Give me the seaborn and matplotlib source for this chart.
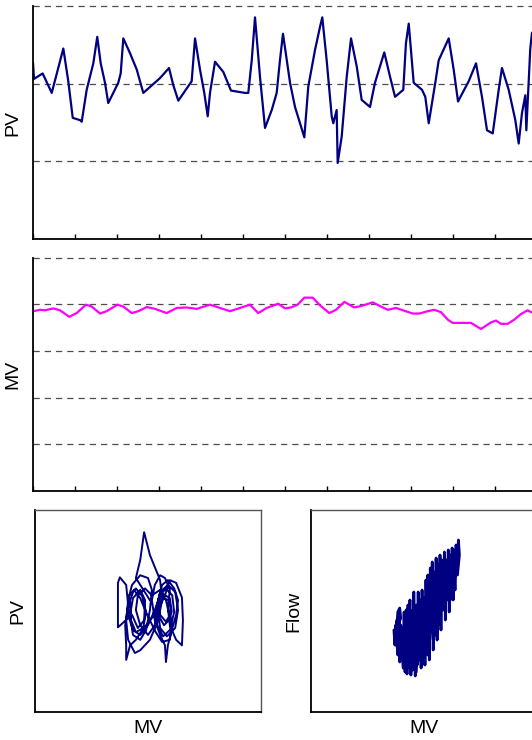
import numpy as np
import pandas as pd
import matplotlib
matplotlib.use("Agg")
import matplotlib.pyplot as plt
import seaborn as sns

# ---- process trend (time, PV) ----
pv_t = [0, 1.2, 11.5, 22.3, 36.1, 42.0, 47.3, 56.0, 58.0, 63.9, 71.8, 76.5, 80.6, 85.7, 89.6,
        101.5, 104.4, 107.5, 115.5, 123.5, 131.3, 151.2, 161.9, 167.0, 173.0, 188.9, 192.9,
        198.8, 203.9, 208.0, 210.7, 216.7, 226.5, 235.7, 252.4, 256.3, 260.4, 264.3, 270.2,
        276.2, 284.2, 290.1, 294.0, 297.6, 306.0, 311.9, 317.9, 323.0, 327.7, 335.7, 341.7,
        344.4, 349.6, 355.6, 357.5, 361.5, 362.7, 367.5, 373.5, 378.6, 385.4, 391.3, 401.2,
        407.1, 413.1, 418.2, 425.0, 431.0, 440.8, 444.0, 447.3, 453.2, 463.1, 467.0, 471.1,
        478.9, 483.0, 494.9, 500.8, 506.0, 518.7, 527.4, 534.5, 540.5, 547.3, 554.4, 558.3,
        566.3, 574.2, 578.2, 582.1, 586.1, 587.3, 592.0, 594.0, 600.0]
pv_val = [2.27, 2.06, 2.13, 1.88, 2.45, 2.03, 1.56, 1.53, 1.51, 1.92, 2.26, 2.60, 2.26, 2.01, 1.75,
          2.01, 2.13, 2.58, 2.39, 2.18, 1.88, 2.07, 2.20, 1.98, 1.78, 2.03, 2.58,
          2.18, 1.88, 1.58, 1.88, 2.28, 2.15, 1.91, 1.88, 1.88, 2.30, 2.85, 2.09,
          1.43, 1.66, 1.88, 2.30, 2.64, 2.01, 1.70, 1.49, 1.31, 1.96, 2.43, 2.73,
          2.85, 2.30, 1.58, 1.49, 1.66, 0.98, 1.32, 2.09, 2.58, 2.22, 1.79, 1.70,
          2.01, 2.22, 2.40, 2.09, 1.83, 1.92, 2.52, 2.77, 2.01, 1.92, 1.83, 1.49,
          2.01, 2.30, 2.58, 2.18, 1.77, 2.03, 2.26, 1.83, 1.40, 1.36, 1.92, 2.20,
          1.92, 1.53, 1.23, 1.62, 1.85, 1.40, 2.45, 2.65, 2.72]

# ---- controller output trend (time, MV %) ----
mv_t = [0.4, 8.3, 14.3, 24.2, 32.1, 43.2, 52.0, 63.1, 69.9, 79.8, 87.7, 100.4, 107.5, 117.5,
        125.4, 135.4, 145.2, 159.2, 171.1, 183.0, 194.9, 210.7, 222.6, 234.5, 246.4, 258.3,
        268.2, 278.2, 292.0, 300.0, 307.1, 315.1, 323.0, 333.0, 340.8, 352.7, 360.7, 370.6,
        382.5, 392.5, 404.4, 414.3, 422.3, 432.1, 442.0, 452.0, 459.9, 469.9, 477.7, 485.7,
        493.7, 499.6, 521.4, 533.3, 545.2, 551.2, 557.1, 565.1, 573.0, 581.0, 588.9, 592.9, 600.0]
mv_val = [77.0, 77.6, 77.4, 78.2, 77.4, 74.6, 76.2, 79.8, 79.0, 76.0, 77.0, 79.8, 79.0, 76.2,
          77.0, 78.8, 78.0, 76.2, 78.4, 78.6, 78.0, 79.8, 78.4, 77.0, 78.4, 79.8,
          76.2, 78.4, 80.2, 78.2, 78.6, 79.8, 82.8, 82.8, 79.8, 76.2, 77.6, 81.0,
          78.6, 79.4, 80.8, 79.0, 77.6, 78.4, 77.2, 76.0, 76.0, 77.0, 77.6, 76.6,
          73.4, 72.0, 72.0, 69.4, 72.2, 73.0, 71.6, 71.6, 73.4, 75.8, 77.4, 76.6, 76.0]

# ---- PV vs MV phase trajectory ----
loop_mv = [76.0, 74.0, 73.1, 74.0, 74.8, 76.0, 77.0, 78.1, 78.5, 77.7, 76.0, 74.0, 72.9, 71.5,
           71.1, 71.5, 72.3, 74.0, 75.6, 76.4, 76.0, 75.2, 74.0, 72.5, 71.9, 72.5, 74.0, 75.0,
           74.8, 73.5, 72.3, 69.4, 69.4, 69.4, 69.8, 71.1, 71.5, 70.9, 71.1, 71.1, 71.9, 73.1,
           74.4, 76.0, 77.7, 79.1, 80.1, 81.4, 82.6, 82.8, 82.6, 81.4, 80.1, 79.7, 80.1, 79.1,
           78.1, 77.0, 76.4, 77.0, 78.1, 79.1, 79.3, 79.7, 80.5, 81.4, 81.8, 81.0, 79.7, 78.5,
           77.7, 78.1, 79.3, 80.5, 80.1, 78.7, 77.5, 77.0, 75.6, 74.0, 73.1, 73.5, 75.0, 76.4,
           78.1, 79.3, 80.5, 80.1, 78.5, 77.2, 76.0,
           75.0, 74.0, 72.7, 71.9, 72.1, 73.1, 74.6, 75.2, 74.4, 73.1, 71.7, 71.5, 72.5, 74.0,
           75.6, 77.0, 78.1, 79.3, 80.6, 81.0, 80.1, 78.7, 77.5, 77.3, 78.1, 79.7, 81.2, 81.8,
           81.2, 79.5, 78.1, 77.7, 78.5, 80.1, 80.3, 78.9, 77.7]
loop_pv = [1.87, 2.09, 2.19, 2.45, 2.85, 2.52, 2.35, 2.16, 1.87, 1.58, 1.30, 1.15, 1.11, 1.30,
           1.58, 1.87, 2.09, 2.23, 2.19, 2.02, 1.73, 1.44, 1.30, 1.37, 1.66, 1.90, 2.02, 1.87,
           1.58, 1.47, 1.66, 1.48, 1.87, 2.12, 2.20, 2.09, 1.80, 1.51, 1.22, 1.01, 1.22, 1.30,
           1.44, 1.58, 1.73, 1.94, 2.16, 2.12, 1.91, 1.58, 1.22, 1.30, 1.51, 1.76, 2.02, 2.19,
           2.23, 2.09, 1.87, 1.58, 1.37, 1.22, 0.98, 1.22, 1.44, 1.66, 1.87, 2.04, 2.16, 2.09,
           1.87, 1.66, 1.56, 1.70, 1.90, 1.96, 1.80, 1.51, 1.37, 1.51, 1.73, 1.94, 2.04, 1.94,
           2.02, 1.87, 1.51, 1.30, 1.27, 1.41, 1.58,
           1.73, 1.90, 2.02, 1.87, 1.58, 1.41, 1.47, 1.70, 1.93, 2.04, 1.94, 1.66, 1.44, 1.37,
           1.51, 1.73, 1.94, 2.04, 1.94, 1.70, 1.44, 1.35, 1.51, 1.76, 1.99, 2.09, 1.99, 1.73,
           1.47, 1.35, 1.47, 1.70, 1.90, 1.87, 1.61, 1.51, 1.66]

# ---- Flow vs MV trajectory ----
flow_mv = [69.4, 69.6, 69.8, 70.2, 70.4, 70.6, 70.8, 71.3, 71.5, 71.7, 71.9, 72.1, 72.3, 72.5,
           72.7, 72.9, 73.1, 73.3, 73.5, 73.8, 74.0, 74.2, 74.4, 74.6, 74.8, 75.0, 75.2, 75.4,
           75.6, 75.8, 76.0, 76.2, 76.4, 76.7, 76.9, 77.1, 77.3, 77.5, 77.7, 77.9, 78.1, 78.3,
           78.5, 78.7, 78.9, 79.1, 79.3, 79.6, 79.8, 80.0, 80.2, 80.4, 80.6, 80.8, 81.0, 81.2,
           81.4, 81.6, 81.8, 82.0, 82.2, 82.5, 82.7, 82.9, 82.5, 82.0,
           81.4, 81.0, 80.4, 80.0, 79.1, 78.5, 78.1, 77.5, 76.9, 76.4, 75.8, 75.2, 74.6, 74.0,
           73.3, 72.7, 72.1, 71.5, 70.8, 70.2, 69.8, 70.2, 70.6, 70.8, 70.4,
           69.6, 70.0, 70.5, 71.1, 71.5, 71.9, 72.5, 72.9, 73.3, 74.0, 74.4, 74.8, 75.4, 75.8,
           76.2, 76.6, 77.0, 77.5, 77.9, 78.3, 78.7, 79.1, 79.5, 79.9, 80.3, 80.8, 81.2, 81.6,
           82.0, 82.2]
flow_val = [41, 33.5, 43.5, 28.5, 48.5, 25, 41, 22, 50, 20, 43.5, 19, 53.5, 26,
            56, 18.5, 48.5, 21, 60, 18, 46, 23.5, 60, 26, 56, 22, 61, 31,
            57, 23.5, 66, 36, 68.5, 26, 72, 41, 75, 31, 70, 46, 77, 36,
            73.5, 48.5, 78.5, 41, 76, 53.5, 80, 46, 76, 58.5, 81, 50, 78.5, 61,
            82, 56, 76, 68.5, 83.5, 76, 86, 78.5, 68.5, 81,
            66, 56, 73.5, 51, 68.5, 43.5, 66, 36, 61, 28.5, 56, 23.5, 53.5, 20,
            51, 22, 46, 26, 43.5, 31, 36, 50, 52, 47, 44,
            38.5, 46, 33.5, 42, 31, 51, 36, 45, 28.5, 53.5, 36, 48.5, 26, 51,
            33.5, 61, 46, 63.5, 38.5, 68.5, 56, 71, 51, 73.5, 56, 76, 66, 78.5,
            61, 73.5]

sns.set_theme(style="white")
plt.rcParams["font.family"] = ["Liberation Sans", "DejaVu Sans"]
plt.rcParams["text.color"] = "black"
plt.rcParams["axes.labelcolor"] = "black"

W, H = 532, 740
fig = plt.figure(figsize=(W / 100, H / 100), dpi=100)

NAVY = "#000080"
MAGENTA = "#ff00ff"
GRID = "#4d4d4d"


def box(l, t, r, b):
    return [l / W, (H - b) / H, (r - l) / W, (b - t) / H]


def trend_axes(ax, ymax, ngrid, label):
    ax.set_xlim(0, 600)
    ax.set_ylim(0, ymax)
    ax.set_xticks(np.arange(0, 601, 50))
    ax.set_xticklabels([])
    ax.set_yticks(np.linspace(ymax / ngrid, ymax, ngrid))
    ax.set_yticklabels([])
    ax.tick_params(axis="x", direction="in", length=3.5, width=1, color="black", bottom=True)
    ax.tick_params(axis="y", length=0, left=False)
    ax.yaxis.grid(True, linestyle=(0, (5, 4)), color=GRID, linewidth=0.9)
    for gl in ax.get_ygridlines():
        gl.set_clip_on(False)
    ax.xaxis.grid(False)
    ax.spines["top"].set_visible(False)
    ax.spines["right"].set_visible(False)
    for s in ("left", "bottom"):
        ax.spines[s].set_color("black")
        ax.spines[s].set_linewidth(1.3)
    ax.set_xlabel("")
    ax.set_ylabel(label, fontsize=14, labelpad=5)


# PV trend
ax1 = fig.add_axes(box(33, 5.7, 537, 239.3))
sns.lineplot(x=pv_t, y=pv_val, ax=ax1, color=NAVY, linewidth=1.6, sort=False, estimator=None)
trend_axes(ax1, 3, 3, "PV")

# MV trend
ax2 = fig.add_axes(box(33, 257.5, 537, 491))
sns.lineplot(x=mv_t, y=mv_val, ax=ax2, color=MAGENTA, linewidth=1.6, sort=False, estimator=None)
trend_axes(ax2, 100, 5, "MV")


def phase_axes(ax, ylim, ylabel):
    ax.set_xlim(52.3, 98.9)
    ax.set_ylim(*ylim)
    ax.set_xticks([])
    ax.set_yticks([])
    ax.grid(False)
    for s in ("left", "bottom"):
        ax.spines[s].set_color("black")
        ax.spines[s].set_linewidth(1.3)
    for s in ("top", "right"):
        ax.spines[s].set_color("#555555")
        ax.spines[s].set_linewidth(1.0)
    ax.set_xlabel("MV", fontsize=14, labelpad=6)
    ax.set_ylabel(ylabel, fontsize=14, labelpad=6)


ax3 = fig.add_axes(box(35, 510, 261, 712))
sns.lineplot(x=loop_mv, y=loop_pv, ax=ax3, color=NAVY, linewidth=1.4, sort=False, estimator=None)
phase_axes(ax3, (0.26, 3.17), "PV")

ax4 = fig.add_axes(box(311, 510, 537, 712))
sns.lineplot(x=flow_mv, y=flow_val, ax=ax4, color=NAVY, linewidth=2.0, sort=False, estimator=None)
phase_axes(ax4, (0, 101), "Flow")

fig.savefig("out.png", dpi=100)
